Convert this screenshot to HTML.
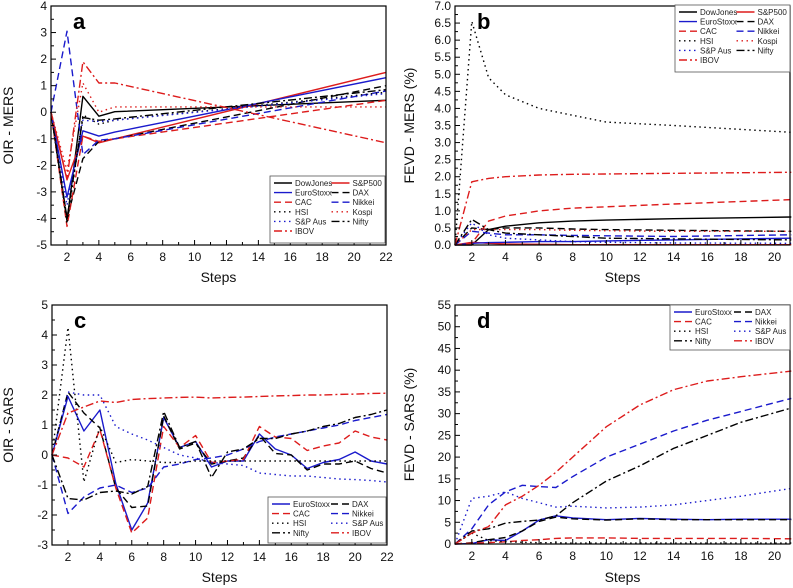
<!DOCTYPE html>
<html><head><meta charset="utf-8"><style>
body{margin:0;background:#fff;}
svg{display:block;font-family:"Liberation Sans",Arial,sans-serif;}
</style></head><body>
<svg id="chart" width="793" height="588" viewBox="0 0 793 588"></svg>
<script>
// ---------- Panel a data (OIR - MERS) ----------
const aX = [1,2,3,4,5,22];
const aDowJones = [0,-4.1,0.6,-0.15,0.02,0.45];
const aSP500 = [0,-2.55,-0.9,-1.15,-1.0,1.5];
const aEuroStoxx = [0,-3.2,-0.7,-0.9,-0.75,1.3];
const aDAX = [0,-4.0,-1.75,-1.1,-1.0,1.0];
const aCAC = [0,-4.3,-0.9,-1.1,-1.0,0.45];
const aNikkei = [0,3.05,-1.6,-1.05,-1.0,0.8];
const aHSI = [0,-4.2,-0.1,-0.45,-0.3,0.75];
const aKospi = [0,-2.2,1.1,0.0,0.2,0.2];
const aSPAus = [0,-3.5,-0.3,-0.35,-0.3,0.7];
const aNifty = [0,-4.0,-0.2,-0.3,-0.25,0.85];
const aIBOV = [0,-2.5,1.9,1.1,1.1,-1.15];
// ---------- Panel b data (FEVD - MERS) ----------
const bX = [1,2,3,4,6,8,10,14,21];
const bHSI = [0,6.55,4.9,4.4,4.0,3.8,3.6,3.5,3.3];
const bIBOV = [0,1.85,1.95,2.0,2.05,2.07,2.08,2.1,2.13];
const bCAC = [0,0.05,0.7,0.85,1.0,1.08,1.12,1.2,1.33];
const bDowJones = [0,0,0.45,0.55,0.65,0.7,0.73,0.77,0.82];
const bDAX = [0,0.5,0.45,0.5,0.5,0.47,0.45,0.43,0.4];
const bKospi = [0,0.45,0.45,0.45,0.45,0.43,0.42,0.4,0.4];
const bNikkei = [0,0.4,0.35,0.3,0.3,0.28,0.27,0.25,0.3];
const bNifty = [0,0.75,0.45,0.35,0.3,0.25,0.2,0.18,0.15];
const bSPAus = [0,0.65,0.3,0.2,0.15,0.1,0.08,0.06,0.05];
const bEuroStoxx = [0,0.05,0.07,0.08,0.1,0.1,0.12,0.15,0.2];
const bSP500 = [0,0.08,0.05,0.03,0.02,0.01,0.01,0.01,0.01];
// ---------- Panel c data (OIR - SARS) ----------
const cX = [1,2,3,4,5,6,7,8,9,10,11,12,13,14,15,16,17,18,19,20,21,22];
const cEuroStoxx = [0,1.95,0.8,1.5,-0.95,-2.5,-1.6,1.25,0.25,0.45,-0.4,-0.2,-0.2,0.7,0.2,0,-0.45,-0.25,-0.15,0.1,-0.2,-0.3];
const cDAX = [0,2.1,1.4,0.9,-1.1,-1.75,-1.7,1.3,0.2,0.4,-0.3,-0.2,-0.1,0.65,0.05,0,-0.5,-0.3,-0.3,-0.2,-0.45,-0.6];
const cCAC = [0,-0.1,-0.4,0.85,-1.1,-2.6,-2.1,0.95,0.25,0.65,-0.25,-0.2,-0.15,0.95,0.6,0.55,0.15,0.3,0.4,0.8,0.6,0.5];
const cNikkei = [0,-1.95,-1.4,-1.1,-1.0,-1.25,-1.1,-0.4,-0.3,-0.15,-0.1,0,0.2,0.45,0.6,0.7,0.8,0.9,1.0,1.15,1.25,1.35];
const cHSI = [0,4.25,-0.9,0.95,-0.25,-0.15,-0.2,-0.25,-0.25,-0.2,-0.2,-0.2,-0.2,-0.2,-0.2,-0.2,-0.2,-0.2,-0.2,-0.2,-0.2,-0.2];
const cSPAus = [0,2.1,2.0,2.0,0.95,0.7,0.5,0.25,0.0,-0.1,-0.25,-0.3,-0.35,-0.6,-0.65,-0.7,-0.7,-0.75,-0.8,-0.82,-0.85,-0.9];
const cNifty = [0,-1.45,-1.5,-1.25,-1.2,-1.3,-1.05,1.45,0.25,0.45,-0.75,0.1,0.2,0.55,0.55,0.7,0.8,0.95,1.05,1.25,1.35,1.5];
const cIBOV = [0,1.4,1.6,1.8,1.75,1.85,1.88,1.9,1.92,1.93,1.9,1.92,1.93,1.95,1.97,1.98,2.0,2.0,2.02,2.03,2.05,2.06];
// ---------- Panel d data (FEVD - SARS) ----------
const dX = [1,2,3,4,5,6,7,8,10,12,14,16,18,21];
const dIBOV = [0,2.5,4,9,11,13.5,16.5,20,27,32,35.5,37.5,38.5,39.8];
const dNikkei = [0,3.5,9,12,13.5,13.2,13,15.5,20,23,26,28.5,30.5,33.5];
const dNifty = [0,3,3.5,4.8,5.2,5.5,6.5,9.5,14.5,18,22,25,28,31.3];
const dSPAus = [0,10.5,11,12,10.5,9.5,8.5,8.7,8.3,8.5,9,10,11,12.8];
const dEuroStoxx = [0,0.1,1,0.8,3,5.5,6.5,6,5.6,5.9,5.7,5.6,5.7,5.7];
const dDAX = [0,0.3,1,1.5,3,5.2,6.2,5.8,5.5,5.8,5.6,5.6,5.6,5.6];
const dCAC = [0,0.2,0.3,0.5,0.8,1,1.3,1.4,1.4,1.3,1.3,1.3,1.3,1.2];
const dHSI = [0,2.5,0.8,0.5,0.4,0.3,0.3,0.2,0.2,0.2,0.2,0.2,0.2,0.2];

const NS = "http://www.w3.org/2000/svg";
const svg = document.getElementById('chart');
const RED = "#dd1c1c", BLUE = "#1a1acc", BLK = "#000";
const DASH = {solid:"", dash:"7,4", dot:"1.5,3.5", dashdot:"8,3,2,3"};
const STY = {
  "DowJones":[BLK,"solid"], "S&P500":[RED,"solid"], "EuroStoxx":[BLUE,"solid"], "DAX":[BLK,"dash"],
  "CAC":[RED,"dash"], "Nikkei":[BLUE,"dash"], "HSI":[BLK,"dot"], "Kospi":[RED,"dot"],
  "S&P Aus":[BLUE,"dot"], "Nifty":[BLK,"dashdot"], "IBOV":[RED,"dashdot"]
};
function el(tag, attrs, parent){
  const e = document.createElementNS(NS, tag);
  for (const k in attrs) e.setAttribute(k, attrs[k]);
  (parent||svg).appendChild(e);
  return e;
}
function panel(cfg){
  const g = el('g', {});
  
  
  const {L,R,T,B,x0,x1,y0,y1} = cfg;
  const sx = v => L + (v - x0) / (x1 - x0) * (R - L);
  const sy = v => B - (v - y0) / (y1 - y0) * (B - T);
  // series
  cfg.series.forEach(s => {
    const [col, ds] = STY[s.name];
    const pts = s.y.map((v,i) => sx(cfg.xs[i]).toFixed(1) + ',' + sy(v).toFixed(1)).join(' ');
    const pl = el('polyline', {points:pts, fill:'none', stroke:col, 'stroke-width':1.4, 'stroke-dasharray':DASH[ds], 'stroke-linejoin':'round'}, g);
    
    
  });
  // frame
  const fr = el('rect', {x:L, y:T, width:R-L, height:B-T, fill:'none', stroke:'#000', 'stroke-width':1.2}, g);
  
  
  // x ticks
  for (let v = Math.ceil(x0); v <= x1 + 1e-6; v++) {
    const major = v % 2 === 0;
    el('line', {x1:sx(v), x2:sx(v), y1:B, y2:B - (major?5:3), stroke:'#000', 'stroke-width':1}, g);
    if (major) {
      const t = el('text', {x:sx(v), y:B + 16, 'font-size':12, 'text-anchor':'middle', fill:'#111'}, g);
      t.textContent = v;
      
      
    }
  }
  // y ticks
  const n = Math.round((y1 - y0) / cfg.ystep);
  for (let i = 0; i <= n; i++) {
    const v = y0 + i * cfg.ystep;
    el('line', {x1:L, x2:L + 5, y1:sy(v), y2:sy(v), stroke:'#000', 'stroke-width':1}, g);
    if (i < n) el('line', {x1:L, x2:L + 3, y1:sy(v + cfg.ystep/2), y2:sy(v + cfg.ystep/2), stroke:'#000', 'stroke-width':1}, g);
    const t = el('text', {x:L - 4, y:sy(v) + 4, 'font-size':12, 'text-anchor':'end', fill:'#111'}, g);
    t.textContent = v.toFixed(cfg.ydec);
    
    
  }
  // titles
  const xt = el('text', {x:(L+R)/2, y:cfg.xtY, 'font-size':14, 'text-anchor':'middle', fill:'#111'}, g);
  xt.textContent = 'Steps';
  
  
  const yt = el('text', {x:0, y:0, 'font-size':14, 'text-anchor':'middle', fill:'#111', transform:`translate(${cfg.ytX},${(T+B)/2}) rotate(-90)`}, g);
  yt.textContent = cfg.ytitle;
  
  
  const lt = el('text', {x:L + 22, y:T + 23, 'font-size':22, 'font-weight':'bold', fill:'#000'}, g);
  lt.textContent = cfg.id;
  
  
  // legend
  const lg = el('g', {}, g);
  
  
  const [lx, ly, lw, lh] = cfg.leg;
  el('rect', {x:lx, y:ly, width:lw, height:lh, fill:'#fff', stroke:'#555', 'stroke-width':0.8}, lg);
  cfg.series.forEach((s, i) => {
    const col = i % 2, row = Math.floor(i / 2);
    const [c, ds] = STY[s.name];
    const ex = lx + 4 + col * lw / 2, ey = ly + 7 + row * 9.6;
    el('line', {x1:ex, x2:ex + 18, y1:ey, y2:ey, stroke:c, 'stroke-width':1.4, 'stroke-dasharray':DASH[ds]}, lg);
    const t = el('text', {x:ex + 21, y:ey + 3, 'font-size':8, fill:'#222'}, lg);
    t.textContent = s.name;
    
    
  });
}
panel({id:'a', L:51, R:386, T:6, B:245, x0:1, x1:22, y0:-5, y1:4, ystep:1, ydec:0, xtY:282, ytX:13, ytitle:'OIR - MERS',
  leg:[270,176,115,67], xs:aX,
  series:[{name:'DowJones',y:aDowJones},{name:'S&P500',y:aSP500},{name:'EuroStoxx',y:aEuroStoxx},{name:'DAX',y:aDAX},
    {name:'CAC',y:aCAC},{name:'Nikkei',y:aNikkei},{name:'HSI',y:aHSI},{name:'Kospi',y:aKospi},
    {name:'S&P Aus',y:aSPAus},{name:'Nifty',y:aNifty},{name:'IBOV',y:aIBOV}]});
panel({id:'b', L:455, R:790, T:6, B:245, x0:1, x1:20.92, y0:0, y1:7, ystep:0.5, ydec:1, xtY:282, ytX:414, ytitle:'FEVD - MERS (%)',
  leg:[675,5,115,67], xs:bX,
  series:[{name:'DowJones',y:bDowJones},{name:'S&P500',y:bSP500},{name:'EuroStoxx',y:bEuroStoxx},{name:'DAX',y:bDAX},
    {name:'CAC',y:bCAC},{name:'Nikkei',y:bNikkei},{name:'HSI',y:bHSI},{name:'Kospi',y:bKospi},
    {name:'S&P Aus',y:bSPAus},{name:'Nifty',y:bNifty},{name:'IBOV',y:bIBOV}]});
panel({id:'c', L:52, R:387, T:305, B:545, x0:1, x1:22, y0:-3, y1:5, ystep:1, ydec:0, xtY:582, ytX:13, ytitle:'OIR - SARS',
  leg:[268,497,118,46], xs:cX,
  series:[{name:'EuroStoxx',y:cEuroStoxx},{name:'DAX',y:cDAX},{name:'CAC',y:cCAC},{name:'Nikkei',y:cNikkei},
    {name:'HSI',y:cHSI},{name:'S&P Aus',y:cSPAus},{name:'Nifty',y:cNifty},{name:'IBOV',y:cIBOV}]});
panel({id:'d', L:455, R:790, T:305, B:544, x0:1, x1:20.92, y0:0, y1:55, ystep:5, ydec:0, xtY:582, ytX:414, ytitle:'FEVD - SARS (%)',
  leg:[670,305,120,45], xs:dX,
  series:[{name:'EuroStoxx',y:dEuroStoxx},{name:'DAX',y:dDAX},{name:'CAC',y:dCAC},{name:'Nikkei',y:dNikkei},
    {name:'HSI',y:dHSI},{name:'S&P Aus',y:dSPAus},{name:'Nifty',y:dNifty},{name:'IBOV',y:dIBOV}]});
</script>
</body></html>
